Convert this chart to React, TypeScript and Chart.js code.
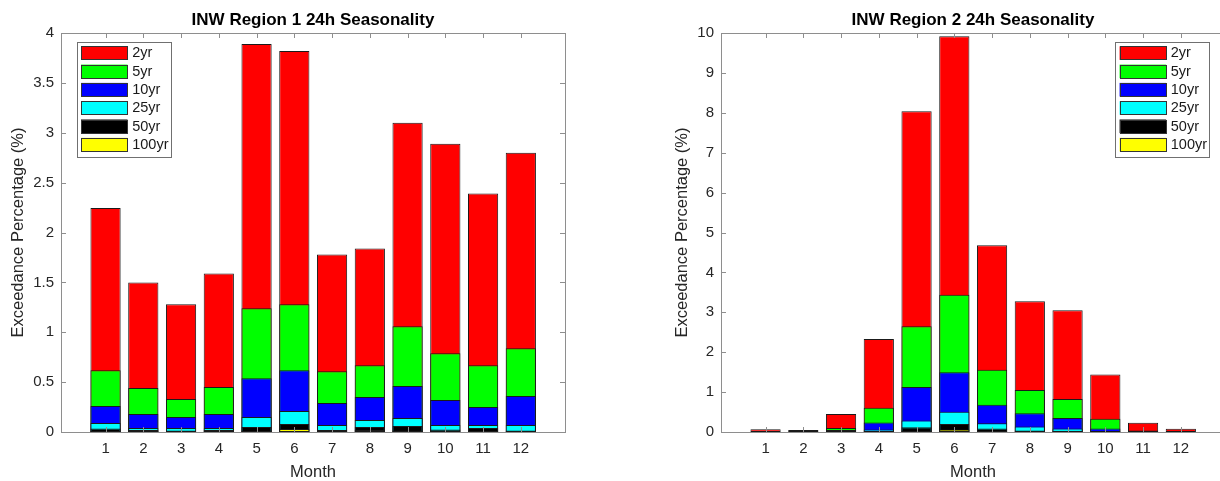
import React, { useEffect, useRef } from "react";
import { Chart, registerables } from "chart.js";

Chart.register(...registerables);

const FONT = "'Liberation Sans', Arial, Helvetica, sans-serif";

const months = [1, 2, 3, 4, 5, 6, 7, 8, 9, 10, 11, 12];
const seriesLabels = ["2yr", "5yr", "10yr", "25yr", "50yr", "100yr"];
const seriesColors = ["#ff0000", "#00ff00", "#0000ff", "#00ffff", "#000000", "#ffff00"];

// Region 1 exceedance percentages (%)
const r1_2yr = [2.245, 1.5, 1.28, 1.59, 3.89, 3.82, 1.78, 1.84, 3.1, 2.89, 2.39, 2.8];
const r1_5yr = [0.62, 0.44, 0.33, 0.45, 1.24, 1.28, 0.61, 0.67, 1.06, 0.79, 0.67, 0.84];
const r1_10yr = [0.26, 0.18, 0.15, 0.18, 0.54, 0.62, 0.29, 0.35, 0.46, 0.32, 0.25, 0.36];
const r1_25yr = [0.09, 0.04, 0.04, 0.04, 0.15, 0.21, 0.07, 0.12, 0.14, 0.07, 0.07, 0.07];
const r1_50yr = [0.035, 0.02, 0.015, 0.02, 0.05, 0.08, 0.02, 0.05, 0.06, 0.025, 0.04, 0.015];
const r1_100yr = [0.01, 0.01, 0.005, 0.005, 0.01, 0.03, 0.01, 0.02, 0.015, 0.005, 0.01, 0.005];

// Region 2 exceedance percentages (%)
const r2_2yr = [0.07, 0.05, 0.45, 2.33, 8.04, 9.92, 4.68, 3.28, 3.05, 1.44, 0.23, 0.08];
const r2_5yr = [0.01, 0.01, 0.1, 0.61, 2.65, 3.44, 1.56, 1.05, 0.83, 0.33, 0.04, 0.01];
const r2_10yr = [0.005, 0.005, 0.05, 0.24, 1.13, 1.5, 0.68, 0.47, 0.35, 0.085, 0.01, 0.005];
const r2_25yr = [0, 0, 0.02, 0.06, 0.29, 0.51, 0.22, 0.14, 0.085, 0.02, 0.005, 0];
const r2_50yr = [0, 0, 0.01, 0.02, 0.12, 0.2, 0.085, 0.04, 0.03, 0.01, 0, 0];
const r2_100yr = [0, 0, 0.005, 0.005, 0.03, 0.06, 0.03, 0.01, 0.01, 0.005, 0, 0];

const region1Series = [r1_2yr, r1_5yr, r1_10yr, r1_25yr, r1_50yr, r1_100yr];
const region2Series = [r2_2yr, r2_5yr, r2_10yr, r2_25yr, r2_50yr, r2_100yr];

const region1YTicks = [0, 0.5, 1, 1.5, 2, 2.5, 3, 3.5, 4];
const region2YTicks = [0, 1, 2, 3, 4, 5, 6, 7, 8, 9, 10];

const matlabAxesPlugin = {
  id: "matlabAxes",
  afterDatasetsDraw(chart: any, _args: any, opts: any) {
    const { ctx, chartArea } = chart;
    const { left, right, top, bottom } = chartArea;
    const xs = chart.scales.x;
    const ys = chart.scales.y;
    const tl = 5;
    ctx.save();
    ctx.strokeStyle = "#8e8e8e";
    ctx.lineWidth = 1;
    ctx.beginPath();
    xs.ticks.forEach((t: any) => {
      const px = Math.round(xs.getPixelForValue(t.value)) + 0.5;
      ctx.moveTo(px, bottom);
      ctx.lineTo(px, bottom - tl);
      ctx.moveTo(px, top);
      ctx.lineTo(px, top + tl);
    });
    ys.ticks.forEach((t: any) => {
      const py = Math.round(ys.getPixelForValue(t.value)) + 0.5;
      ctx.moveTo(left, py);
      ctx.lineTo(left + tl, py);
      ctx.moveTo(right, py);
      ctx.lineTo(right - tl, py);
    });
    ctx.stroke();
    ctx.strokeRect(Math.round(left) + 0.5, Math.round(top) + 0.5, Math.round(right - left), Math.round(bottom - top));

    // legend box (MATLAB style, inside axes)
    const boxW = 94;
    const boxH = 114.5;
    const bx = opts.side === "left" ? left + 15.7 : right - 15.7 - boxW;
    const by = top + 8.7;
    ctx.fillStyle = "#ffffff";
    ctx.fillRect(bx, by, boxW, boxH);
    ctx.strokeStyle = "#707070";
    ctx.strokeRect(Math.round(bx) + 0.5, Math.round(by) + 0.5, Math.round(boxW), Math.round(boxH));
    ctx.font = `14.5px ${FONT}`;
    ctx.textBaseline = "middle";
    ctx.textAlign = "left";
    chart.data.datasets.forEach((ds: any, i: number) => {
      const sy = by + 4.6 + i * 18.3;
      ctx.fillStyle = ds.backgroundColor;
      ctx.fillRect(bx + 4.3, sy, 46.5, 13.6);
      ctx.strokeStyle = "#333333";
      ctx.strokeRect(Math.round(bx + 4.3) + 0.5, Math.round(sy) + 0.5, 46, 13);
      ctx.fillStyle = "#1a1a1a";
      ctx.fillText(ds.label, bx + 55.5, sy + 7);
    });
    ctx.restore();
  },
};

type PanelProps = {
  title: string;
  series: number[][];
  yMax: number;
  yTicks: number[];
  yAxisWidth: number;
  yTitlePad: number;
  padRight: number;
  width: number;
  legendSide: "left" | "right";
};

function Panel(props: PanelProps) {
  const ref = useRef<HTMLCanvasElement | null>(null);
  useEffect(() => {
    if (!ref.current) return;
    const datasets = props.series.map((vals, si) => ({
      label: seriesLabels[si],
      data: months.map((m, i) => ({ x: m, y: vals[i] })),
      backgroundColor: seriesColors[si],
      borderColor: "#1a1a1a",
      borderWidth: 1,
      borderSkipped: false as const,
      grouped: false,
      order: seriesLabels.length - si,
      barPercentage: 0.8,
      categoryPercentage: 1,
    }));
    const chart = new Chart(ref.current, {
      type: "bar",
      data: { datasets },
      plugins: [matlabAxesPlugin],
      options: {
        responsive: false,
        animation: false,
        events: [],
        layout: { padding: { top: 0, left: 0, right: props.padRight, bottom: 0 } },
        scales: {
          x: {
            type: "linear",
            min: -0.18,
            max: 13.17,
            offset: false,
            grid: { display: false, drawTicks: false },
            border: { display: false },
            afterBuildTicks: (s: any) => {
              s.ticks = months.map((v) => ({ value: v }));
            },
            afterFit: (s: any) => {
              s.height = 49;
            },
            ticks: {
              padding: 8,
              autoSkip: false,
              maxRotation: 0,
              color: "#262626",
              font: { family: FONT, size: 15 },
              callback: (v: any) => String(v),
            },
            title: {
              display: true,
              text: "Month",
              color: "#262626",
              font: { family: FONT, size: 16.5, lineHeight: 1 },
              padding: { top: 0, bottom: 0 },
            },
          },
          y: {
            type: "linear",
            min: 0,
            max: props.yMax,
            grid: { display: false, drawTicks: false },
            border: { display: false },
            afterBuildTicks: (s: any) => {
              s.ticks = props.yTicks.map((v) => ({ value: v }));
            },
            afterFit: (s: any) => {
              s.width = props.yAxisWidth;
            },
            ticks: {
              padding: 7,
              color: "#262626",
              font: { family: FONT, size: 15 },
              callback: (v: any) => String(v),
            },
            title: {
              display: true,
              text: "Exceedance Percentage (%)",
              color: "#262626",
              font: { family: FONT, size: 16.5, lineHeight: 1 },
              padding: { top: props.yTitlePad, bottom: 0 },
            },
          },
        },
        plugins: {
          legend: { display: false },
          tooltip: { enabled: false },
          title: {
            display: true,
            text: props.title,
            color: "#000000",
            fullSize: false,
            font: { family: FONT, size: 17, weight: "bold", lineHeight: 1.2 },
            padding: { top: 10.3, bottom: 2.3 },
          },
          matlabAxes: { side: props.legendSide },
        } as any,
      },
    });
    return () => chart.destroy();
  }, []);
  return <canvas ref={ref} width={props.width} height={481} style={{ display: "block" }} />;
}

export default function App() {
  return (
    <div
      style={{
        position: "fixed",
        left: 0,
        top: 0,
        width: 1220,
        height: 481,
        overflow: "hidden",
        background: "#ffffff",
      }}
    >
      <div style={{ position: "absolute", left: 0, top: 0, width: 620, height: 481 }}>
        <Panel
          title="INW Region 1 24h Seasonality"
          series={region1Series}
          yMax={4}
          yTicks={region1YTicks}
          yAxisWidth={61}
          yTitlePad={10}
          padRight={55}
          width={620}
          legendSide="left"
        />
      </div>
      <div style={{ position: "absolute", left: 620, top: 0, width: 660, height: 481 }}>
        <Panel
          title="INW Region 2 24h Seasonality"
          series={region2Series}
          yMax={10}
          yTicks={region2YTicks}
          yAxisWidth={101}
          yTitlePad={53.75}
          padRight={55}
          width={660}
          legendSide="right"
        />
      </div>
    </div>
  );
}
